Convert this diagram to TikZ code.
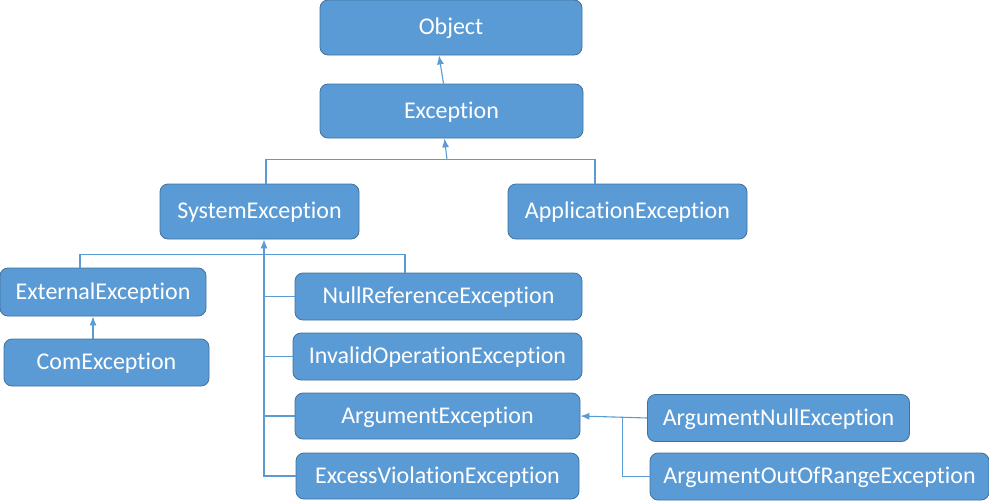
\documentclass[tikz,border=0pt]{standalone}
\usepackage{fontspec}
\setmainfont{Carlito}[Ligatures=NoCommon]
\usetikzlibrary{arrows.meta}
\definecolor{boxfill}{HTML}{5B9BD5}
\definecolor{boxline}{HTML}{41719C}
\begin{document}
\begin{tikzpicture}[x=1pt,y=-1pt, font=\fontsize{24}{28}\selectfont,
  cls/.style={draw=boxline, fill=boxfill, text=white, rounded corners=8pt, line width=.8pt, inner sep=0pt, text height=18pt, text depth=4pt},
  lnk/.style={draw=boxfill, line width=1.1pt}, tip/.tip={Latex[length=9pt,width=7pt]}]
\useasboundingbox (0,0) rectangle (989,501);
\path (451,27.5) node[cls, minimum width=262, minimum height=55] (obj) {Object}
(451.5,111) node[cls, minimum width=263, minimum height=54] (exc) {Exception}
(259.5,211.5) node[cls, minimum width=199, minimum height=55] (sys) {SystemException}
(627.5,211.5) node[cls, minimum width=239, minimum height=55] (app) {ApplicationException}
(103,292) node[cls, minimum width=206, minimum height=48] (ext) {ExternalException}
(106.5,362.5) node[cls, minimum width=205, minimum height=47] (com) {ComException}
(438.5,296.5) node[cls, minimum width=287, minimum height=47] (nul) {NullReferenceException}
(437.5,356.5) node[cls, minimum width=289, minimum height=47] (inv) {InvalidOperationException}
(437.5,416) node[cls, minimum width=285, minimum height=46] (arg) {ArgumentException}
(437.5,476) node[cls, minimum width=283, minimum height=46] (xvi) {ExcessViolationException}
(778.5,418) node[cls, minimum width=262, minimum height=47] (an) {ArgumentNullException}
(819.5,476.5) node[cls, minimum width=339, minimum height=47] (aor) {ArgumentOutOfRangeException};
\draw[lnk, -tip] ([xshift=-8]exc.north) -- ([xshift=-12]obj.south);
\draw[lnk] ([xshift=6.5]sys.north) -- ++(0,-24) coordinate (b1) -| ([xshift=-32.5]app.north);
\draw[lnk, -tip] (b1 -| 447,0) -- ([xshift=-7]exc.south);
\draw[lnk] ([xshift=-23]ext.north) -- ++(0,-13) -| ([xshift=-33.5]nul.north);
\draw[lnk, tip-] ([xshift=4.5]sys.south) |- coordinate[pos=.5] (t) (xvi.west);
\foreach \d in {nul, inv, arg} \draw[lnk] (\d.west) -- (\d.west -| t);
\draw[lnk, -tip] ([xshift=-13.5]com.north) -- ([xshift=-10]ext.south);
\draw[lnk, -tip] (an.west) -- (arg.east);
\draw[lnk] ([xshift=-24.5]an.west) |- (aor.west);
\end{tikzpicture}
\end{document}
